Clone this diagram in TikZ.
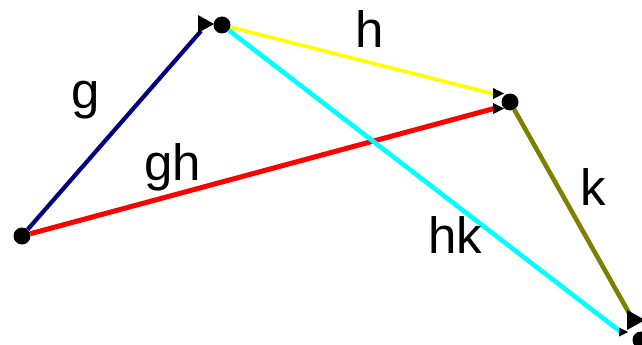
\documentclass[tikz,border=0pt]{standalone}
\usepackage{fontspec}
\setmainfont{Liberation Sans}
\usetikzlibrary{calc}
\definecolor{navyc}{RGB}{0,0,128}
\definecolor{olivec}{RGB}{128,128,0}
\definecolor{yellowc}{RGB}{255,255,0}
\definecolor{cyanc}{RGB}{0,255,255}
\definecolor{redc}{RGB}{255,0,0}
\begin{document}
\begin{tikzpicture}[x=1pt,y=-1pt,
  dot/.style={circle,fill=black,inner sep=0pt,minimum size=17pt},
  edge/.style={line width=4.2pt},
  lbl/.style={font=\fontsize{51}{60}\selectfont, anchor=base, inner sep=0pt},
  tip/.style={fill=black}]
\useasboundingbox (0,0) rectangle (642,345);
% vertices
\node[dot] (A) at (22,236) {};
\node[dot] (B) at (222,25) {};
\node[dot] (C) at (510,102) {};
\node[dot] (D) at (641,340) {};
% free ends of connectors (at the arrow tips)
\coordinate (gE) at (201,31);
\coordinate (hE) at (494,94);
\coordinate (ghE) at (494,108.5);
\coordinate (hkE) at (621,332);
\coordinate (kE) at (633,320);
% connectors
\draw[edge,navyc] (A) -- (gE);
\draw[edge,yellowc,line width=3.6pt] (B) -- (hE);
\draw[edge,redc,line width=5pt] (A) -- (ghE);
\draw[edge,cyanc,line width=4.6pt] (B) -- (hkE);
\draw[edge,olivec,line width=4.6pt] (C) -- (kE);
% arrow tips (horizontal)
\fill[tip] (198,15) -- (214,24) -- (198,33) -- cycle;
\fill[tip] (493,88) -- (504,93.5) -- (493,99) -- cycle;
\fill[tip] (493,103) -- (504,108.5) -- (493,114) -- cycle;
\fill[tip] (619,327.5) -- (628,332) -- (619,336.5) -- cycle;
\fill[tip] (627,310) -- (645,320) -- (627,330) -- cycle;
% labels
\node[lbl] (lg) at (86,108) {g};
\node[lbl] (lh) at (370,48) {h};
\node[lbl] (lgh) at (173,180) {gh};
\node[lbl] (lk) at (593,205) {k};
\node[lbl] (lhk) at (455,253) {hk};
\end{tikzpicture}
\end{document}
